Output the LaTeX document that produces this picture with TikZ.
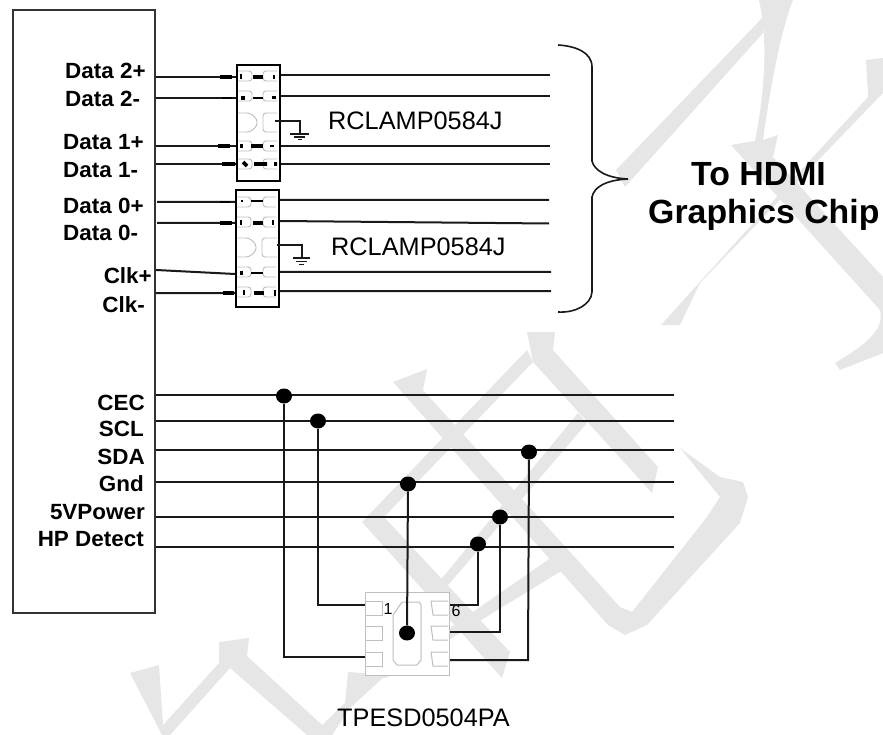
\documentclass[tikz,border=0pt]{standalone}
\usepackage{fontspec}
\usetikzlibrary{shapes.geometric}
\setmainfont{Liberation Sans}
\definecolor{wm}{HTML}{E6E6E6}
\definecolor{padgray}{HTML}{BEBEBE}
\tikzset{
  wmark/.style={fill=wm,draw=none},
  wire/.style={draw=black!90,line width=2pt},
  blk/.style={draw=black!80,line width=2.2pt},
  chipbox/.style={draw=black,line width=2pt},
  padl/.style={draw=padgray,line width=0.9pt,rounded corners=3pt},
  tick/.style={draw=black,line width=3.6pt},
  tickthin/.style={draw=black,line width=2pt},
  sig/.style={font=\bfseries\fontsize{22}{24}\selectfont,transform shape,xscale=1.02,inner sep=0pt},
  part/.style={font=\fontsize{25.3}{28}\selectfont,inner sep=0pt,anchor=west},
  big/.style={font=\bfseries\fontsize{33.5}{36}\selectfont,transform shape,xscale=1.01,inner sep=0pt},
  dot/.style={ellipse,fill=black,inner sep=0pt,minimum width=16pt,minimum height=15pt},
  pinnum/.style={font=\fontsize{16}{17}\selectfont,inner sep=0pt},
}
\begin{document}
\begin{tikzpicture}[x=1pt,y=-1pt]
\useasboundingbox (0,0) rectangle (883,735);
% watermark
\fill[wmark] (765,15) -- (616,170) -- (625,187) -- (763,33) -- cycle;
\fill[wmark] (759,0) -- (793,0) .. controls (780,33) and (770,90) .. (763,140) -- (778,135) -- (773,157) -- (883,277) -- (883,353) -- (840,370) -- (835,363) .. controls (865,345) and (885,330) .. (880,310) -- (731,145) -- (755,141) .. controls (765,90) and (768,40) .. (759,0) -- cycle;
\fill[wmark] (866,60) -- (883,58) -- (883,93) -- (700,283) -- (680,325) -- (661,325) -- (813,157) -- (868,97) -- cycle;
\fill[wmark] (527,332) -- (555,332) -- (553,350) -- (658,467) -- (652,493) -- (533,362) -- cycle;
\fill[wmark] (393,382) -- (427,369) -- (423,390) -- (620,607) -- (632,612) -- (707,517) -- (720,497) -- (680,448) -- (720,477) -- (743,482) -- (748,497) -- (740,523) -- (647,625) -- (625,635) -- (608,625) -- cycle;
\fill[wmark] (527,350) -- (362,522) -- (502,678) -- (510,652) -- (384,517) -- (533,362) -- cycle;
\fill[wmark] (578,413) -- (587,423) -- (450,583) -- (375,665) -- (368,658) -- (443,577) -- cycle;
\fill[wmark] (375,680) -- (552,557) -- (563,570) -- (388,677) -- cycle;
\fill[wmark] (348,672) -- (386,675) -- (350,708) -- (332,735) -- (312,735) -- (345,703) -- cycle;
\fill[wmark] (130,673) -- (159,665) -- (163,725) -- (219,663) -- (219,642) -- (249,638) -- (247,656) -- (333,735) -- (307,735) -- (230,668) -- (170,735) -- (162,735) -- cycle;
% main block
\node[blk,draw,inner sep=0pt,minimum width=142pt,minimum height=603pt,anchor=north west] (mainic) at (12,9) {};
% protection chips
\node[chipbox,fill=white,inner sep=0pt,minimum width=43pt,minimum height=116pt,anchor=north west] (clampa) at (236,64) {};
\node[chipbox,fill=white,inner sep=0pt,minimum width=43pt,minimum height=117pt,anchor=north west] (clampb) at (235,189) {};
% internal pads
\foreach \y in {76,96,146,164}{
  \draw[padl] (238,\y-5) -- (252,\y-5) -- (252,\y+5) -- (238,\y+5);
  \draw[padl] (277,\y-5) -- (263,\y-5) -- (263,\y+5) -- (277,\y+5);
}
\foreach \y in {202,222,272,292}{
  \draw[padl] (237,\y-5) -- (251,\y-5) -- (251,\y+5) -- (237,\y+5);
  \draw[padl] (276,\y-5) -- (263,\y-5) -- (263,\y+5) -- (276,\y+5);
}
\draw[padl] (238,113) -- (250,113) -- (257,119) -- (257,126) -- (250,132) -- (238,132);
\draw[padl] (277,113) -- (263,113) -- (263,132) -- (277,132);
\draw[padl] (237,238) -- (249,238) -- (256,244) -- (256,251) -- (249,257) -- (237,257);
\draw[padl] (277,238) -- (262,238) -- (262,257) -- (277,257);
% high-speed lines
\foreach \n/\yl/\yr in {a/77/75,b/98/96,c/146/146,d/164/164}{
  \coordinate (l\n) at (mainic.east |- 0,\yl);
  \coordinate (cl\n) at (clampa.west |- 0,\yl);
  \coordinate (cr\n) at (clampa.east |- 0,\yr);
  \coordinate (e\n) at (549.5,\yr);
  \draw[wire] (l\n) -- (cl\n) (cr\n) -- (e\n);
}
\coordinate (le) at (157,202); \coordinate (lf) at (157,223); \coordinate (lg) at (mainic.east |- 0,270); \coordinate (lh) at (mainic.east |- 0,293);
\coordinate (cle) at (clampb.west |- 0,202); \coordinate (clf) at (clampb.west |- 0,223); \coordinate (clg) at (clampb.west |- 0,274); \coordinate (clh) at (clampb.west |- 0,293);
\draw[wire] (le) -- (cle) (lf) -- (clf) (lg) -- (clg) (lh) -- (clh);
\coordinate (cre) at (clampb.east |- 0,200); \coordinate (crf) at (clampb.east |- 0,221); \coordinate (crg) at (clampb.east |- 0,272); \coordinate (crh) at (clampb.east |- 0,291);
\coordinate (ee) at (549,200); \coordinate (ef) at (549,223.5); \coordinate (eg) at (551,272); \coordinate (eh) at (551,291);
\draw[wire] (cre) -- (ee) (crf) -- (ef) (crg) -- (eg) (crh) -- (eh);
% ticks
\draw[tick] (220,77) -- (232,77) (253,77) -- (263,77);
\draw[tickthin] (241,74) -- (241,79) (274,75) -- (274,79);
\draw[tickthin] (222,98) -- (232,98) (253,98) -- (263,98);
\draw[tick] (241,98) -- (245,98) (274,96) -- (274,99);
\draw[tick] (218,146) -- (230,146) (251,146) -- (263,146) (240,146) -- (243,146) (272,145) -- (272,147);
\draw[tick] (222,164) -- (235,164) (254,164) -- (267,164) (243,162) -- (247,166) (274,164) -- (277,164);
\draw[tickthin] (220,202) -- (230,202) (251,201) -- (263,201);
\draw[tickthin] (241,201) -- (243,201);
\draw[tick] (220,223) -- (232,223) (253,223) -- (263,223);
\draw[tickthin] (241,220) -- (241,225) (273,220) -- (273,225);
\draw[tick] (240,273) -- (243,273);
\draw[tickthin] (251,273) -- (263,273);
\draw[tick] (223,293) -- (234,293) (254,293) -- (264,293);
\draw[tickthin] (244,290) -- (244,295) (275,290) -- (275,296);
% grounds
\coordinate (ga) at (275,121); \coordinate (gb) at (277,245);
\draw[wire,line width=1.3pt] (ga) -- (300,121) -- (300,133);
\draw[wire,line width=1.3pt] (290,134) -- (309,134) (294,137) -- (305,137) (298,139.5) -- (302,139.5);
\draw[wire,line width=1.3pt] (gb) -- (302,245) -- (302,258);
\draw[wire,line width=1.3pt] (293,258) -- (310,258) (296,261.5) -- (307,261.5) (299,264.5) -- (304,264.5);
% brace
\coordinate (brtop) at (558,45); \coordinate (brtip) at (628,179); \coordinate (brbot) at (558,312);
\draw[wire,line width=1.6pt] (brtop) .. controls (575,46) and (592,52) .. (592,67) -- (592,161) .. controls (594,170) and (606,178) .. (brtip) .. controls (606,180) and (594,187) .. (592,197) -- (592,292) .. controls (591,305) and (575,313) .. (brbot);
% low-speed lines
\foreach \n/\y in {p/395,q/421,r/450,s/482,t/517,u/547}{
  \coordinate (ls\n) at (mainic.east |- 0,\y);
  \coordinate (le\n) at (674,\y);
  \draw[wire] (ls\n) -- (le\n);
}
% TPESD chip
\node[draw=padgray,fill=white,line width=1pt,inner sep=0pt,minimum width=84pt,minimum height=83pt,anchor=north west] (tpesd) at (365,592) {};
\foreach \y in {601,626,652}{
  \draw[draw=padgray,line width=1pt] (366,\y) -- (382,\y) -- (382,\y+14) -- (366,\y+14);
  \draw[draw=padgray,line width=1pt] (448,\y) -- (431,\y) -- (433,\y+14) -- (448,\y+14);
}
\draw[draw=padgray,line width=1pt] (393,615) -- (402,602) -- (419,602) -- (421,605) -- (421,660) -- (417,665) -- (397,665) -- (393,660) -- cycle;
\node[pinnum] (pinone) at (388,609) {1};
\node[pinnum] (pinsix) at (456,611) {6};
% dots and their wires
\node[dot] (dcec) at (284,396) {};
\node[dot] (dscl) at (318,421) {};
\node[dot] (dsda) at (529,452) {};
\node[dot] (dgnd) at (408,484) {};
\node[dot] (dpwr) at (500,517) {};
\node[dot] (dhpd) at (478,544) {};
\node[dot] (dpad) at (407,633) {};
\draw[wire] (dcec) -- (284,657) -- (tpesd.west |- 0,657);
\draw[wire] (dscl) -- (318,605) -- (tpesd.west |- 0,605);
\draw[wire] (dgnd) -- (dpad);
\draw[wire] (dhpd) -- (478,605) -- (tpesd.east |- 0,605);
\draw[wire] (dpwr) -- (500,632) -- (tpesd.east |- 0,632);
\draw[wire] (dsda) -- (528,660) -- (tpesd.east |- 0,660);
% labels
\node[sig,anchor=west] (tda) at (65,71) {Data 2+};
\node[sig,anchor=west] (tdb) at (65,99) {Data 2-};
\node[sig,anchor=west] (tdc) at (63,142) {Data 1+};
\node[sig,anchor=west] (tdd) at (63,170) {Data 1-};
\node[sig,anchor=west] (tde) at (63,206) {Data 0+};
\node[sig,anchor=west] (tdf) at (63,233) {Data 0-};
\node[sig,anchor=east] (tdg) at (152,276) {Clk+};
\node[sig,anchor=east] (tdh) at (145,305) {Clk-};
\node[sig,anchor=east] (tcec) at (145,403) {CEC};
\node[sig,anchor=east] (tscl) at (144,429) {SCL};
\node[sig,anchor=east] (tsda) at (145,457) {SDA};
\node[sig,anchor=east] (tgnd) at (144,484) {Gnd};
\node[sig,anchor=east] (tpwr) at (145,512) {5VPower};
\node[sig,anchor=east] (thpd) at (144,539) {HP Detect};
\node[part] (rca) at (328,121) {RCLAMP0584J};
\node[part] (rcb) at (331,247) {RCLAMP0584J};
\node[part] (tpl) at (337,718) {TPESD0504PA};
\node[big,anchor=west] (bga) at (691,174) {To HDMI};
\node[big,anchor=west] (bgb) at (648,215) {Graphics Chip};
\end{tikzpicture}
\end{document}
